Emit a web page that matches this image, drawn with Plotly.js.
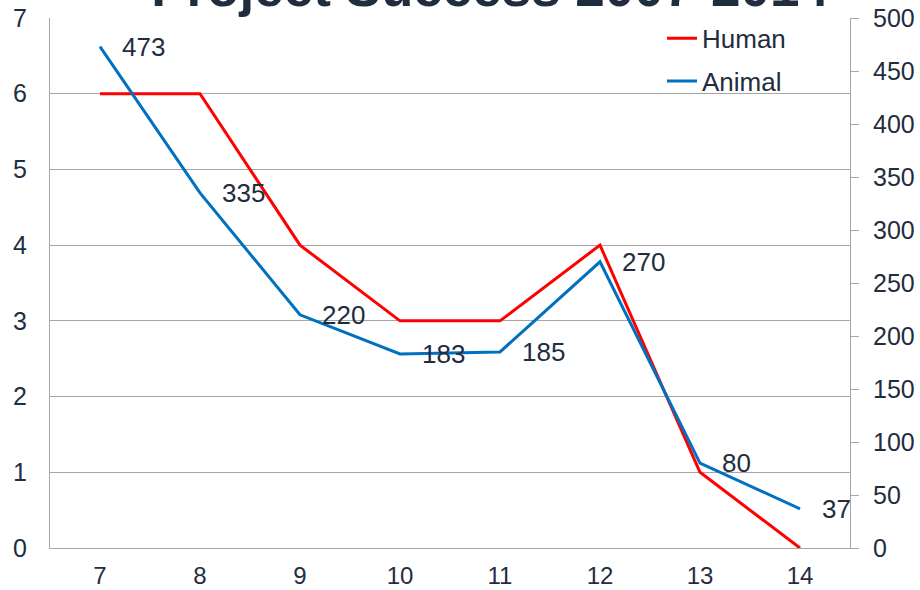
<!DOCTYPE html>
<html>
<head>
<meta charset="utf-8">
<script src="https://cdn.plot.ly/plotly-3.0.1.min.js"></script>
<style>html,body{margin:0;padding:0;background:#fff;}#chart{width:920px;height:590px;}</style>
</head>
<body>
<div id="chart"></div>
<script>
const years = ['7','8','9','10','11','12','13','14'];
const human = [6, 6, 4, 3, 3, 4, 1, 0];
const animal = [473, 335, 220, 183, 185, 270, 80, 37];
const titleText = 'Project Success 2007-2014';

const navy = '#1f2d3e';
const grid = '#a6a6a6';
const fontFam = 'Liberation Sans, Arial, sans-serif';

const traces = [
  {x: years, y: human, name: 'Human', type: 'scatter', mode: 'lines',
   line: {color: '#ff0000', width: 3}, yaxis: 'y', legendgroup: 'a'},
  {x: years, y: animal, name: 'Animal', type: 'scatter', mode: 'lines',
   line: {color: '#0070c0', width: 3}, yaxis: 'y2', legendgroup: 'b'}
];

// category axis: annotation x given as category position
const annotations = animal.map((v, i) => ({
  x: years.indexOf(years[i]), y: v, xref: 'x', yref: 'y2', text: String(v),
  showarrow: false, xanchor: 'left', yanchor: 'middle', xshift: 20,
  font: {family: fontFam, size: 26, color: navy}
}));

const layout = {
  width: 920, height: 590,
  margin: {l: 50, r: 70, t: 18, b: 42},
  paper_bgcolor: '#ffffff', plot_bgcolor: '#ffffff',
  font: {family: fontFam, size: 25, color: navy},
  title: {text: '<b>' + titleText + '</b>', xref: 'paper', yref: 'paper', x: 0.55, xanchor: 'center',
          y: 1, yanchor: 'bottom', pad: {b: 12}, font: {family: fontFam, size: 53, color: navy}},
  xaxis: {type: 'category', range: [-0.5, 7.5], showgrid: false, zeroline: false,
          showline: true, linecolor: grid, linewidth: 1, ticks: '', ticklabelstandoff: 6,
          tickfont: {size: 24, color: navy}},
  yaxis: {range: [0, 7], dtick: 1, showgrid: true, gridcolor: grid, gridwidth: 1, zeroline: false,
          showline: true, linecolor: grid, linewidth: 1, ticks: '', ticklabelstandoff: 17,
          tickfont: {size: 25, color: navy}},
  yaxis2: {range: [0, 500], dtick: 50, overlaying: 'y', side: 'right', showgrid: false, zeroline: false,
           showline: true, linecolor: grid, linewidth: 1, ticks: 'outside', ticklen: 8, tickcolor: grid,
           ticklabelstandoff: 9, tickfont: {size: 25, color: navy}},
  showlegend: true,
  legend: {x: 0.765, y: 1.006, xanchor: 'left', yanchor: 'top', bgcolor: 'rgba(0,0,0,0)',
           font: {size: 26, color: navy}, tracegroupgap: 6, traceorder: 'grouped'},
  annotations: annotations
};

Plotly.newPlot('chart', traces, layout, {displayModeBar: false, staticPlot: true});
</script>
</body>
</html>
